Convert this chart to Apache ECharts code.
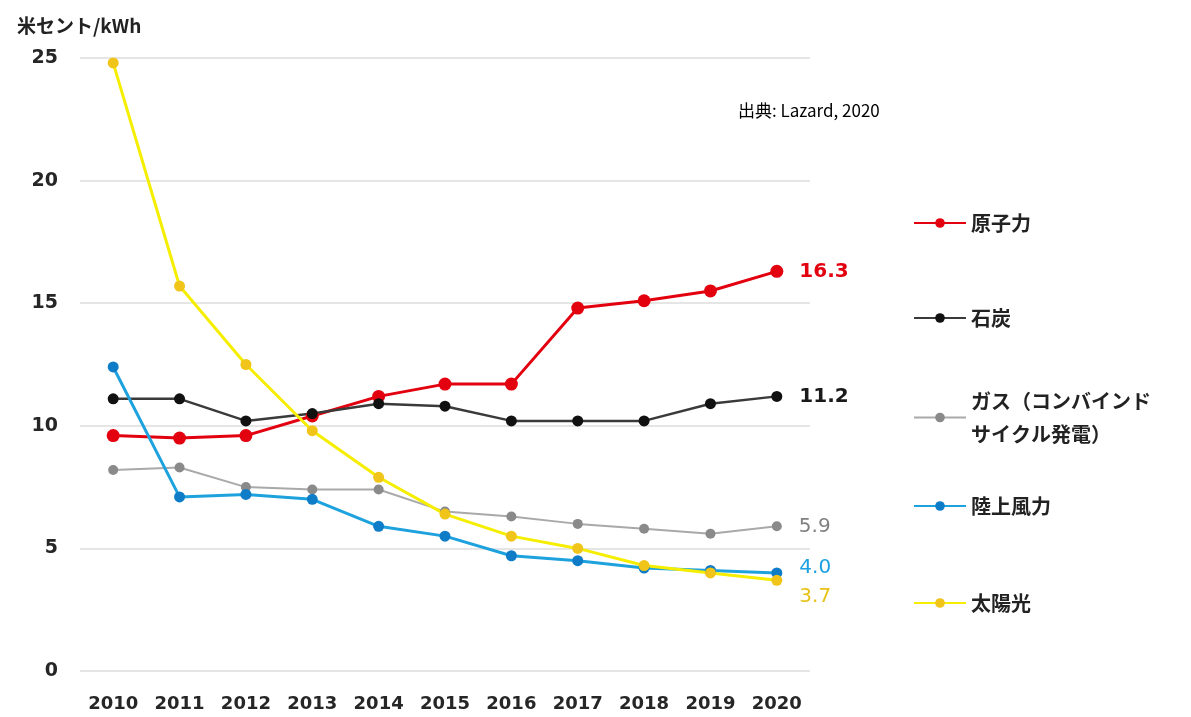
<!DOCTYPE html>
<html>
<head>
<meta charset="utf-8">
<script src="https://cdn.jsdelivr.net/npm/echarts@6/dist/echarts.min.js"></script>
<style>
  html, body { margin: 0; padding: 0; background: #ffffff; }
  #chart { width: 1191px; height: 717px; }
</style>
</head>
<body>
<div id="chart"></div>
<script>
// Levelized cost of electricity by source (US cents per kWh), 2010-2020
const years = ['2010', '2011', '2012', '2013', '2014', '2015', '2016', '2017', '2018', '2019', '2020'];
const nuclear = [9.6, 9.5, 9.6, 10.4, 11.2, 11.7, 11.7, 14.8, 15.1, 15.5, 16.3];
const coal = [11.1, 11.1, 10.2, 10.5, 10.9, 10.8, 10.2, 10.2, 10.2, 10.9, 11.2];
const gasCC = [8.2, 8.3, 7.5, 7.4, 7.4, 6.5, 6.3, 6.0, 5.8, 5.6, 5.9];
const windOnshore = [12.4, 7.1, 7.2, 7.0, 5.9, 5.5, 4.7, 4.5, 4.2, 4.1, 4.0];
const solarPV = [24.8, 15.7, 12.5, 9.8, 7.9, 6.4, 5.5, 5.0, 4.3, 4.0, 3.7];
const yTicks = [0, 5, 10, 15, 20, 25];

const names = {
  nuclear: '原子力',
  coal: '石炭',
  gas: 'ガス（コンバインドサイクル発電）',
  wind: '陸上風力',
  solar: '太陽光'
};

const numFont = '"DejaVu Sans", sans-serif';
const jpFont = '"Noto Sans CJK JP", sans-serif';

// Put a one-decimal value label on the final point of a series only
function withEndLabel(values, labelOpt) {
  return values.map((v, i) => {
    if (i !== values.length - 1) return v;
    return {
      value: v,
      label: Object.assign({
        show: true,
        position: 'right',
        formatter: (p) => Number(p.value).toFixed(1)
      }, labelOpt)
    };
  });
}

function makeSeries(name, values, lineColor, symColor, width, size, labelOpt) {
  return {
    name: name,
    type: 'line',
    data: withEndLabel(values, labelOpt),
    symbol: 'circle',
    symbolSize: size,
    lineStyle: { color: lineColor, width: width },
    itemStyle: { color: symColor },
    emphasis: { disabled: true },
    animation: false
  };
}

function legendAt(name, top, textExtra) {
  return {
    data: [name],
    orient: 'vertical',
    left: 913,
    top: top,
    padding: 0,
    itemWidth: 52,
    itemHeight: 12,
    itemGap: 0,
    selectedMode: false,
    textStyle: Object.assign({ fontFamily: jpFont, fontSize: 20, fontWeight: 'bold', color: '#222', lineHeight: 20 }, textExtra || {})
  };
}

const chart = echarts.init(document.getElementById('chart'), null, { renderer: 'canvas' });

chart.setOption({
  backgroundColor: '#ffffff',
  animation: false,
  title: [
    {
      text: '米セント/kWh',
      left: 12, top: 11,
      textStyle: { fontFamily: jpFont, fontSize: 19, fontWeight: 'bold', color: '#222' }
    },
    {
      text: '出典: Lazard, 2020',
      left: 733, top: 97,
      textStyle: { fontFamily: jpFont, fontSize: 17, fontWeight: 'normal', color: '#000' }
    }
  ],
  legend: [
    legendAt(names.nuclear, 213),
    legendAt(names.coal, 308),
    Object.assign(legendAt(names.gas, 368, { lineHeight: 33, padding: [33, 0, 0, 0] }), {
      formatter: () => 'ガス（コンバインド\nサイクル発電）'
    }),
    legendAt(names.wind, 496),
    legendAt(names.solar, 593)
  ],
  grid: { left: 80, right: 381, top: 58, bottom: 46, containLabel: false },
  xAxis: {
    type: 'category',
    data: years,
    boundaryGap: true,
    axisLine: { show: false },
    axisTick: { show: false },
    axisLabel: { margin: 24, fontFamily: numFont, fontSize: 18, fontWeight: 'bold', color: '#262626' }
  },
  yAxis: {
    type: 'value',
    min: yTicks[0],
    max: yTicks[yTicks.length - 1],
    interval: 5,
    axisLine: { show: false },
    axisTick: { show: false },
    axisLabel: { margin: 22, fontFamily: numFont, fontSize: 19, fontWeight: 'bold', color: '#262626' },
    splitLine: { lineStyle: { color: '#dcdcdc', width: 1.5 } }
  },
  series: [
    makeSeries(names.nuclear, nuclear, '#e3000f', '#e3000f', 3, 13,
      { distance: 16, fontFamily: numFont, fontSize: 20, fontWeight: 'bold', color: '#e3000f' }),
    makeSeries(names.coal, coal, '#3a3a3a', '#111111', 2.5, 11,
      { distance: 17, fontFamily: numFont, fontSize: 20, fontWeight: 'bold', color: '#1a1a1a' }),
    makeSeries(names.gas, gasCC, '#a9a9a9', '#8a8a8a', 2, 10,
      { distance: 17, fontFamily: numFont, fontSize: 20, fontWeight: 'normal', color: '#808080' }),
    makeSeries(names.wind, windOnshore, '#1ea2de', '#0f7cc8', 3, 11,
      { distance: 17, offset: [0, -5], fontFamily: numFont, fontSize: 20, fontWeight: 'normal', color: '#1ba1e2' }),
    makeSeries(names.solar, solarPV, '#f5ee00', '#f0c419', 3, 11,
      { distance: 17, offset: [0, 17], fontFamily: numFont, fontSize: 20, fontWeight: 'normal', color: '#e8c21a' })
  ]
});
</script>
</body>
</html>
